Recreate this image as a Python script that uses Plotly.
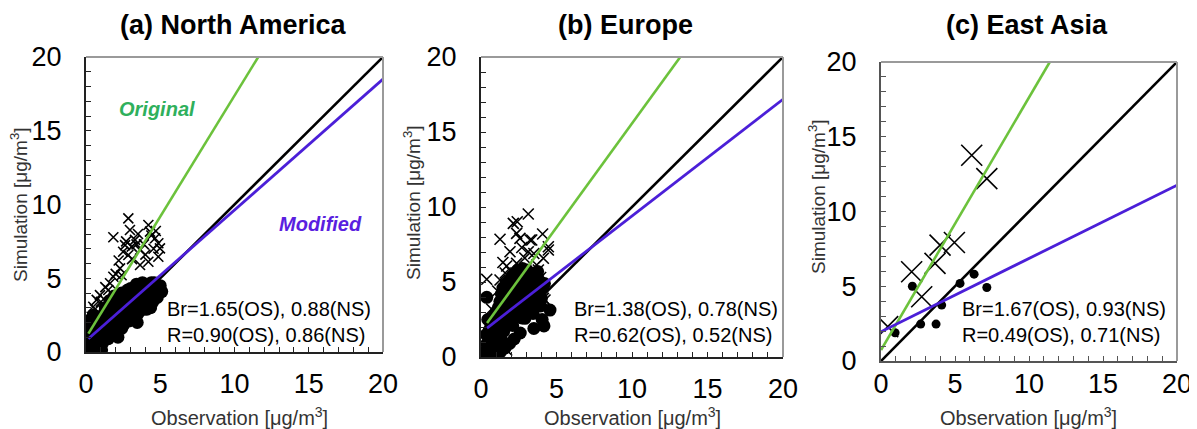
import plotly.graph_objects as go

W, H = 1197, 429

# ---------------- data ----------------
titles = ["(a) North America", "(b) Europe", "(c) East Asia"]

# Panel (a) North America : original simulation (OS, crosses)
a_os_x = [2.85, 2.96, 1.84, 4.20, 4.31, 2.63, 3.08, 3.64, 2.85, 4.65, 4.87, 4.98, 4.87, 4.20, 3.64,
          2.29, 1.84, 1.62, 0.94, 0.72, 0.49, 0.38, 2.20, 3.30, 3.90, 2.50, 4.40, 1.30, 1.00, 0.60,
          0.30, 2.00, 3.50, 4.70, 2.70, 3.10, 4.00, 1.50, 2.40, 0.20, 0.50, 1.20, 3.40, 4.55]
a_os_y = [9.06, 8.27, 7.78, 8.61, 8.16, 7.25, 7.14, 6.92, 6.58, 7.71, 7.37, 7.03, 6.46, 6.12, 5.90,
          5.67, 5.10, 4.66, 3.86, 3.53, 3.07, 2.39, 6.20, 7.60, 7.30, 6.80, 7.90, 4.40, 3.40, 2.90,
          1.90, 5.30, 8.00, 8.20, 7.50, 6.30, 6.60, 4.20, 5.20, 0.80, 1.50, 2.80, 7.30, 7.00]
# Panel (a) North America : new simulation (NS, dots)
a_ns_x = [0.10, 0.20, 0.30, 0.15, 0.40, 0.50, 0.60, 0.30, 0.50, 0.70, 0.80, 0.90, 0.20, 0.60, 0.90,
          1.00, 0.40, 0.70, 0.50, 0.30, 0.80, 1.00, 1.10, 1.20, 1.30, 1.40, 1.20, 1.50, 1.60, 1.70,
          1.50, 1.30, 1.80, 1.90, 1.80, 1.70, 2.00, 2.00, 1.60, 1.90, 2.10, 2.20, 2.30, 2.20, 2.40,
          2.50, 2.60, 2.70, 2.60, 2.80, 2.90, 3.00, 2.90, 3.00, 2.40, 3.10, 3.20, 3.30, 3.20, 3.40,
          3.50, 3.60, 3.70, 3.60, 3.80, 3.90, 4.00, 3.90, 4.00, 4.10, 4.20, 4.30, 4.20, 4.40, 4.50,
          4.60, 4.70, 4.60, 4.80, 4.90, 5.00, 4.90, 5.10, 0.25, 0.70, 1.05, 2.15, 3.45, 4.35]
a_ns_y = [0.20, 0.50, 0.30, 0.90, 0.70, 0.20, 0.50, 1.20, 1.00, 0.90, 0.30, 0.60, 1.60, 1.40, 1.20,
          0.40, 2.00, 1.80, 2.50, 2.20, 2.30, 1.70, 0.60, 1.10, 1.60, 2.10, 2.60, 0.90, 1.40, 2.00,
          2.70, 3.00, 1.10, 1.70, 2.50, 3.20, 2.20, 3.00, 3.50, 3.80, 1.40, 1.90, 2.60, 3.40, 4.00,
          1.80, 2.30, 3.00, 3.70, 4.20, 2.10, 2.70, 3.40, 4.30, 1.60, 2.40, 3.00, 3.60, 4.30, 4.60,
          2.60, 3.20, 3.90, 4.50, 4.70, 2.90, 3.40, 4.10, 4.60, 2.90, 3.30, 3.80, 4.40, 4.70, 3.40,
          3.90, 4.40, 4.70, 3.70, 4.20, 4.50, 4.00, 4.10, 0.05, 0.10, 0.15, 1.00, 2.00, 3.00]

# Panel (b) Europe : OS crosses
b_os_x = [3.13, 2.14, 2.40, 1.26, 2.58, 3.36, 4.08, 4.46, 1.92, 3.13, 0.38, 1.26, 2.36, 4.13, 3.69,
          4.24, 1.70, 4.13, 4.46, 3.25, 2.36, 1.70, 0.90, 1.60, 2.90, 3.80, 1.10, 2.00, 3.50, 0.70,
          2.70, 1.45, 3.95, 2.20, 3.00]
b_os_y = [9.53, 8.91, 9.02, 7.85, 7.91, 7.80, 8.20, 7.13, 7.02, 7.02, 5.18, 5.13, 6.24, 6.58, 6.13,
          3.80, 6.07, 3.91, 7.35, 7.80, 8.24, 0.47, 0.30, 5.60, 6.60, 5.80, 4.40, 5.70, 6.90, 3.20,
          7.30, 6.30, 5.30, 4.80, 5.90]
# Panel (b) Europe : NS dots
b_ns_x = [0.15, 0.30, 0.50, 0.40, 0.60, 0.70, 0.35, 0.55, 0.80, 0.90, 0.65, 1.00, 0.45, 0.85, 1.10,
          1.00, 1.20, 1.30, 1.15, 1.40, 1.25, 1.50, 1.35, 1.60, 1.45, 1.70, 1.55, 1.80, 1.65, 1.90,
          1.75, 2.00, 1.85, 2.10, 1.95, 2.20, 2.05, 2.30, 2.15, 2.40, 2.25, 2.50, 2.35, 2.60, 2.45,
          2.70, 2.55, 2.80, 2.65, 2.90, 2.75, 3.00, 2.85, 3.10, 2.95, 3.20, 3.05, 3.30, 3.15, 3.40,
          3.25, 3.50, 3.35, 3.60, 3.45, 3.70, 3.55, 3.80, 3.65, 3.90, 3.75, 4.00, 3.85, 4.10, 3.95,
          4.20, 0.38, 4.57, 4.17, 2.91, 1.05, 1.60, 2.20, 0.75, 1.30, 3.50, 4.05, 2.60, 1.90, 0.95]
b_ns_y = [0.10, 0.40, 0.20, 0.90, 0.70, 1.30, 1.50, 1.80, 0.40, 1.10, 2.20, 1.60, 2.50, 2.70, 0.80,
          3.00, 2.00, 1.30, 3.30, 2.50, 3.70, 1.70, 4.20, 3.00, 4.60, 2.20, 3.80, 3.50, 4.90, 2.60,
          4.40, 3.20, 5.10, 2.10, 4.00, 3.70, 5.40, 2.70, 4.50, 4.20, 5.60, 3.20, 5.00, 4.00, 5.80,
          2.60, 4.70, 3.50, 5.40, 4.30, 5.90, 3.00, 4.90, 3.80, 5.50, 4.60, 5.80, 3.30, 5.00, 4.20,
          5.60, 3.70, 4.80, 5.40, 2.90, 4.40, 5.20, 3.60, 4.90, 4.30, 5.70, 3.90, 5.10, 4.60, 3.40,
          4.90, 3.98, 3.13, 2.07, 2.58, 0.20, 0.60, 1.20, 0.10, 0.35, 1.90, 2.50, 1.60, 0.90, 0.60]

# Panel (c) East Asia : OS crosses
c_os_x = [6.13, 7.15, 4.96, 3.99, 3.65, 2.07, 2.75, 0.45]
c_os_y = [13.76, 12.20, 7.93, 7.75, 6.53, 5.97, 4.30, 2.30]
# Panel (c) East Asia : NS dots
c_ns_x = [2.12, 5.34, 6.29, 7.15, 4.10, 2.68, 3.72, 0.95]
c_ns_y = [5.00, 5.19, 5.81, 4.92, 3.74, 2.47, 2.47, 1.89]

# regression lines (slope, intercept, start of observed range)
orig_slope = [1.64, 1.386, 1.69]
orig_icpt = [0.98, 1.71, 0.73]
mod_slope = [0.887, 0.778, 0.49]
mod_icpt = [0.76, 1.62, 1.96]
line_x0 = [0.16, 0.40, 0.0]

br_os = ["1.65", "1.38", "1.67"]
br_ns = ["0.88", "0.78", "0.93"]
r_os = ["0.90", "0.62", "0.49"]
r_ns = ["0.86", "0.52", "0.71"]

# ---------------- style ----------------
FONT = "Arial, Liberation Sans, sans-serif"
GREEN_LINE = "#6cc23c"
BLUE_LINE = "#4b1fd8"
GREEN_TXT = "#2fb05c"
BLUE_TXT = "#5a1fe0"

# the page places the figure 8 px in from the window's top-left corner
OFF = 8

# plot-area pixel boxes in the window: (left, right, top, bottom)
boxes = [(86, 383, 57, 352), (481, 783, 57, 357), (881, 1177, 62, 361)]
x_size = [10, 11, 21]
dot_size = [13, 13, 9]
x_standoff = [7, 7, -2]

os_x = [a_os_x, b_os_x, c_os_x]
os_y = [a_os_y, b_os_y, c_os_y]
ns_x = [a_ns_x, b_ns_x, c_ns_x]
ns_y = [a_ns_y, b_ns_y, c_ns_y]


def px(x):
    return (x - OFF) / W


def py(y):
    return 1 - (y - OFF) / H


fig = go.Figure()
annotations = []
shapes = []
layout_axes = {}

for i in range(3):
    sfx = "" if i == 0 else str(i + 1)
    xa, ya = "x" + sfx, "y" + sfx
    l, r, t, b = boxes[i]

    fig.add_trace(go.Scatter(
        x=os_x[i], y=os_y[i], mode="markers", xaxis=xa, yaxis=ya,
        marker=dict(symbol="x-thin-open", size=x_size[i], color="black",
                    line=dict(color="black", width=1.6)),
        showlegend=False, hoverinfo="skip"))
    fig.add_trace(go.Scatter(
        x=ns_x[i], y=ns_y[i], mode="markers", xaxis=xa, yaxis=ya,
        marker=dict(symbol="circle", size=dot_size[i], color="black", line=dict(width=0)),
        showlegend=False, hoverinfo="skip"))
    # 1:1 line
    fig.add_trace(go.Scatter(
        x=[0, 20], y=[0, 20], mode="lines", xaxis=xa, yaxis=ya,
        line=dict(color="black", width=2.6), showlegend=False, hoverinfo="skip"))
    x0 = line_x0[i]
    x1g = (20 - orig_icpt[i]) / orig_slope[i]
    fig.add_trace(go.Scatter(
        x=[x0, x1g], y=[orig_icpt[i] + orig_slope[i] * x0, orig_icpt[i] + orig_slope[i] * x1g],
        mode="lines", xaxis=xa, yaxis=ya,
        line=dict(color=GREEN_LINE, width=2.6), showlegend=False, hoverinfo="skip"))
    fig.add_trace(go.Scatter(
        x=[x0, 20], y=[mod_icpt[i] + mod_slope[i] * x0, mod_icpt[i] + mod_slope[i] * 20],
        mode="lines", xaxis=xa, yaxis=ya,
        line=dict(color=BLUE_LINE, width=2.8), showlegend=False, hoverinfo="skip"))

    edge = "#222222" if i < 2 else "#555555"
    common = dict(range=[0, 20], dtick=5, ticks="inside", ticklen=5, tickwidth=1.3,
                  tickcolor=edge, showgrid=False, zeroline=False, showline=True,
                  linecolor=edge, linewidth=2, mirror=False, automargin=False,
                  tickfont=dict(family=FONT, size=27, color="black"),
                  minor=dict(dtick=1, ticks="inside", ticklen=5, tickwidth=1.3, tickcolor=edge),
                  fixedrange=True)
    layout_axes["xaxis" + sfx] = dict(common, domain=[px(l), px(r)], anchor=ya,
                                      ticklabelstandoff=x_standoff[i])
    layout_axes["yaxis" + sfx] = dict(common, domain=[py(b), py(t)], anchor=xa,
                                      ticklabelstandoff=17)

    # lighter frame on top/right
    shapes.append(dict(type="line", xref="paper", yref="paper", x0=px(l), x1=px(r), y0=py(t), y1=py(t),
                       line=dict(color="#9a9a9a", width=2)))
    shapes.append(dict(type="line", xref="paper", yref="paper", x0=px(r), x1=px(r), y0=py(t), y1=py(b),
                       line=dict(color="#9a9a9a", width=2)))

    # panel title
    cx = [233, 625, 1027][i]
    annotations.append(dict(text="<b>" + titles[i] + "</b>", xref="paper", yref="paper",
                            x=px(cx), y=py(25), xanchor="center", yanchor="middle",
                            showarrow=False, font=dict(family=FONT, size=27, color="black")))
    # axis titles
    xt = [239, 632, 1028][i]
    annotations.append(dict(text="Observation [μg/m<sup>3</sup>]", xref="paper", yref="paper",
                            x=px(xt), y=py(416), xanchor="center", yanchor="middle",
                            showarrow=False, font=dict(family=FONT, size=20, color="#333333")))
    yx = [19, 412, 817][i]
    yy = [205, 203, 197][i]
    annotations.append(dict(text="Simulation [μg/m<sup>3</sup>]", xref="paper", yref="paper",
                            x=px(yx), y=py(yy), xanchor="center", yanchor="middle", textangle=-90,
                            showarrow=False, font=dict(family=FONT, size=19, color="#333333")))
    # statistics
    sx = [373, 780, 1168][i]
    annotations.append(dict(text=f"Br={br_os[i]}(OS), {br_ns[i]}(NS)<br>R={r_os[i]}(OS), {r_ns[i]}(NS)",
                            xref="paper", yref="paper", x=px(sx), y=py(322), xanchor="right",
                            yanchor="middle", align="left", showarrow=False,
                            font=dict(family=FONT, size=20, color="black")))

annotations.append(dict(text="<b><i>Original</i></b>", xref="paper", yref="paper", x=px(157), y=py(109),
                        xanchor="center", yanchor="middle", showarrow=False,
                        font=dict(family=FONT, size=20, color=GREEN_TXT)))
annotations.append(dict(text="<b><i>Modified</i></b>", xref="paper", yref="paper", x=px(320), y=py(224),
                        xanchor="center", yanchor="middle", showarrow=False,
                        font=dict(family=FONT, size=20, color=BLUE_TXT)))

fig.update_layout(width=W, height=H, margin=dict(l=0, r=0, t=0, b=0, autoexpand=False),
                  paper_bgcolor="white", plot_bgcolor="white",
                  annotations=annotations, shapes=shapes, **layout_axes)

fig.write_html("out.html")
